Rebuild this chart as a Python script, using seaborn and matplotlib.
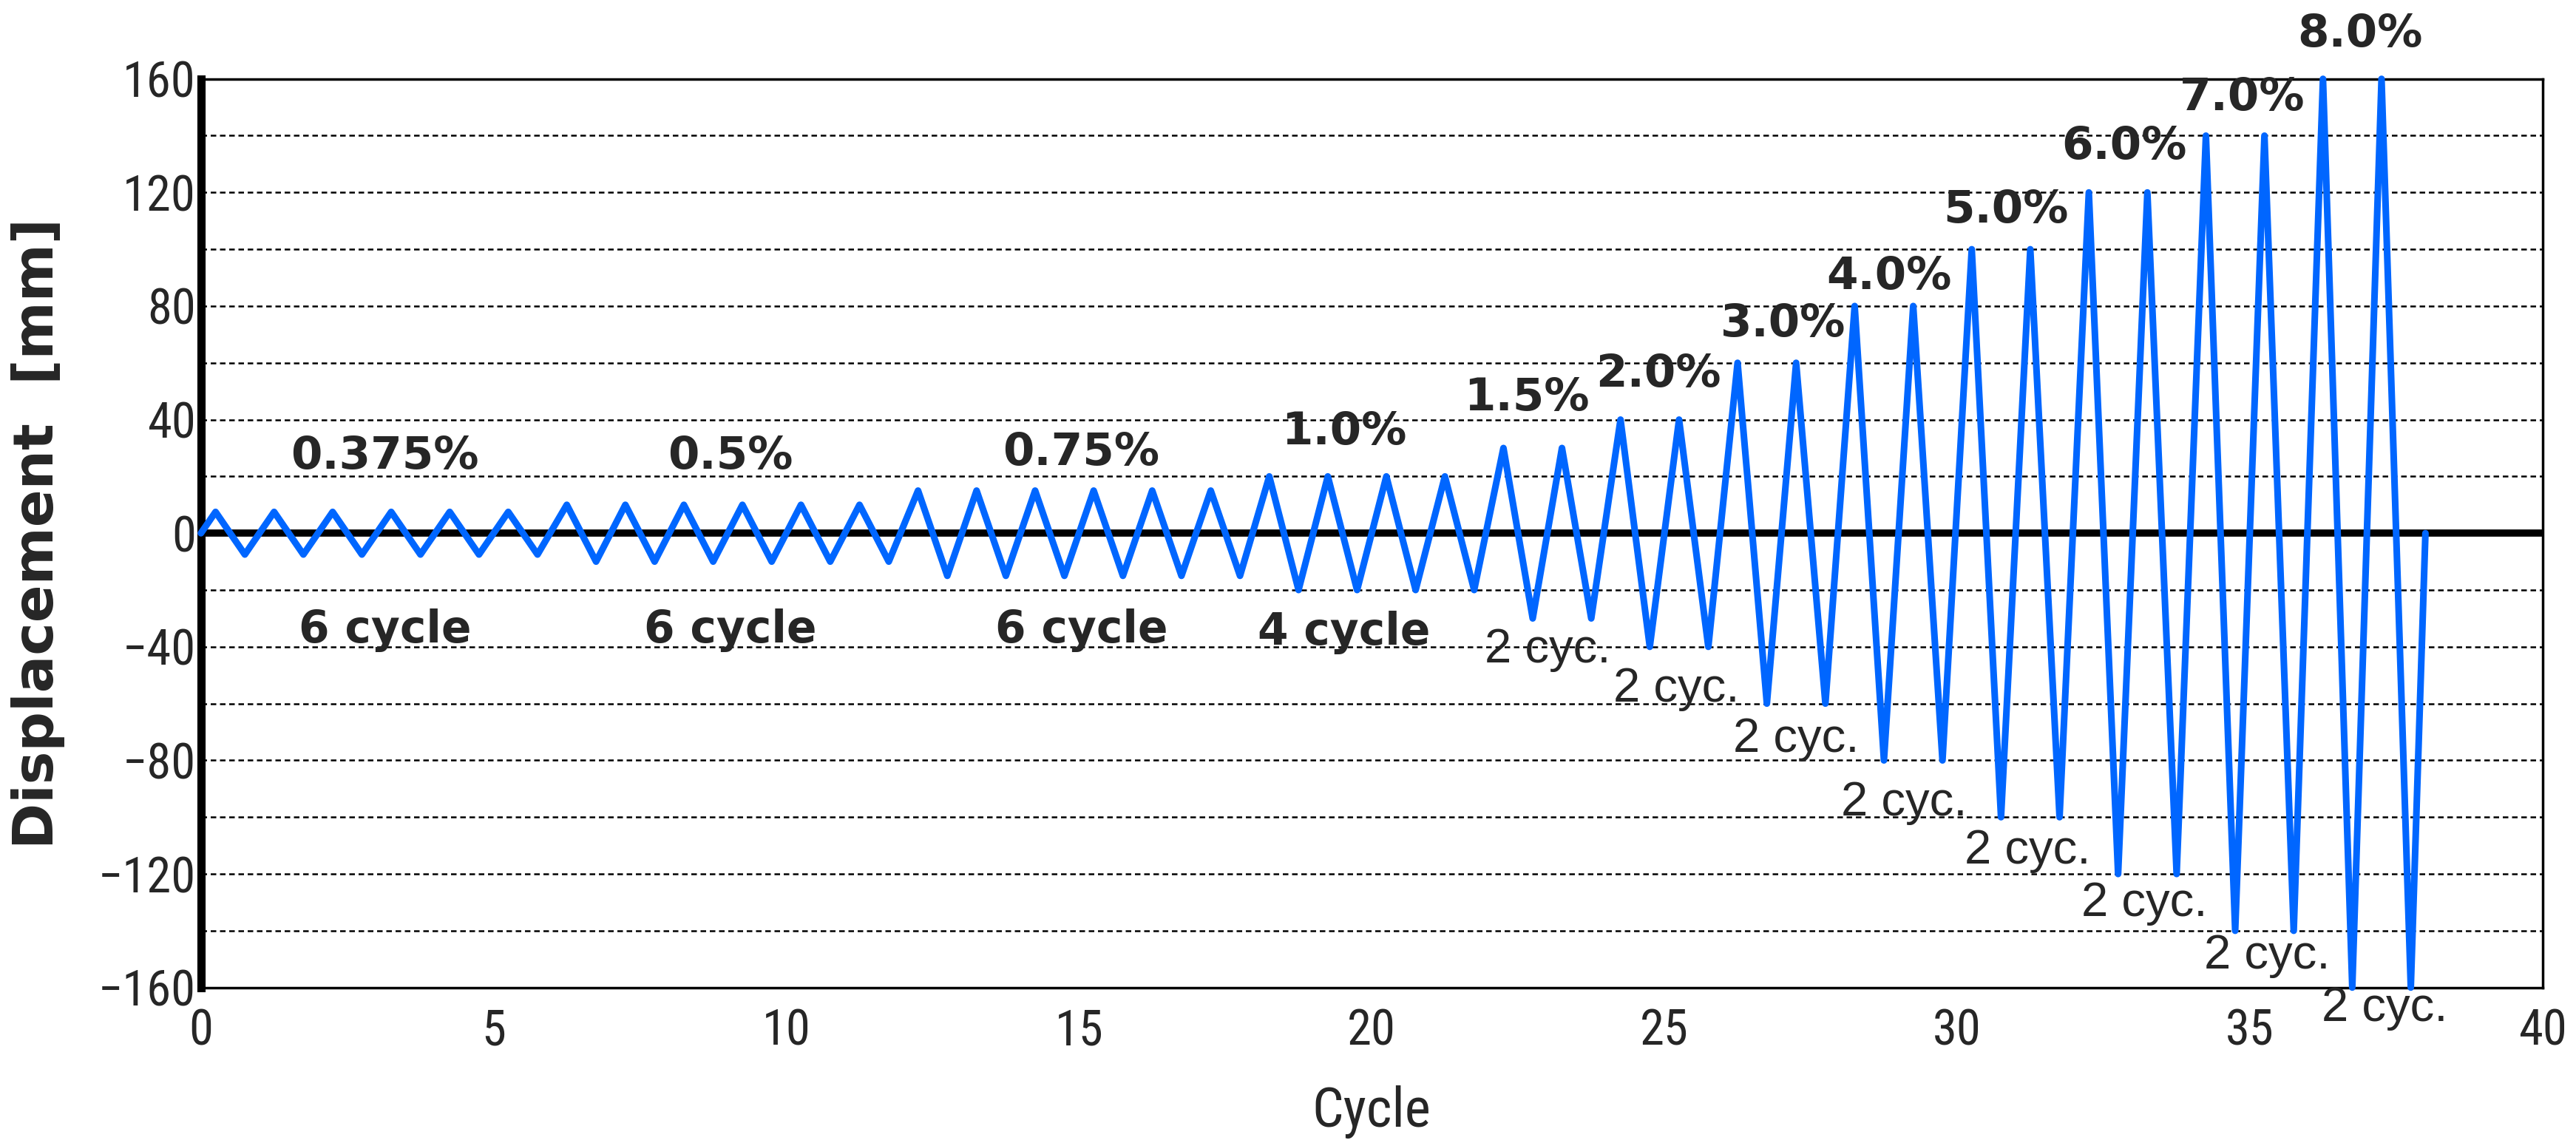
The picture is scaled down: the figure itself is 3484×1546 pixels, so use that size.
import numpy as np
import pandas as pd
import matplotlib
matplotlib.use("Agg")
import matplotlib.pyplot as plt
from matplotlib import font_manager
import seaborn as sns

# loading protocol: drift level, amplitude (mm) and number of cycles
drift_labels = ["0.375%", "0.5%", "0.75%", "1.0%", "1.5%", "2.0%", "3.0%",
                "4.0%", "5.0%", "6.0%", "7.0%", "8.0%"]
amplitudes = [7.5, 10, 15, 20, 30, 40, 60, 80, 100, 120, 140, 160]
n_cycles = [6, 6, 6, 4, 2, 2, 2, 2, 2, 2, 2, 2]
cycle_labels = ["6 cycle", "6 cycle", "6 cycle", "4 cycle"] + ["2 cyc."] * 8

# build the zigzag history: +A at quarter cycle, -A at three quarters
amp_per_cycle = np.repeat(amplitudes, n_cycles)
xs = [0.0]
ys = [0.0]
for i, a in enumerate(amp_per_cycle):
    xs += [i + 0.25, i + 0.75]
    ys += [a, -a]
xs.append(float(len(amp_per_cycle)))
ys.append(0.0)
df = pd.DataFrame({"Cycle": xs, "Displacement": ys})

sns.set_style("white")
plt.rcParams['font.family'] = ['Liberation Sans', 'DejaVu Sans']

# narrow face for ticks if one is installed
names = {f.name for f in font_manager.fontManager.ttflist}
narrow = [n for n in ["Liberation Sans Narrow", "DejaVu Sans Condensed", "Roboto Condensed"] if n in names]
tick_family = narrow + ['Liberation Sans', 'DejaVu Sans']

fig = plt.figure(figsize=(34.84, 15.46), dpi=100)
ax = fig.add_axes([0.078, 0.136, 0.909, 0.795])

# dashed grid every 20
for g in range(-140, 161, 20):
    if g != 0:
        ax.axhline(g, color="black", lw=1.8, ls=(0, (3, 2)), zorder=1)
ax.axhline(0, color="black", lw=7, zorder=2)

sns.lineplot(data=df, x="Cycle", y="Displacement", color="#0066ff", lw=6.5,
             ax=ax, zorder=3, clip_on=False, sort=False)

ax.set_xlim(0, 40)
ax.set_ylim(-160, 160)
ax.set_xticks(range(0, 41, 5))
ax.set_yticks(range(-160, 161, 40))
ax.tick_params(axis="y", direction="in", length=10, width=5, labelsize=48, pad=5)
ax.tick_params(axis="x", length=0, labelsize=48, pad=20)
for lab in ax.get_xticklabels() + ax.get_yticklabels():
    lab.set_family(tick_family)
    lab.set_stretch("condensed")
for s in ["top", "right", "bottom"]:
    ax.spines[s].set_linewidth(2.5)
    ax.spines[s].set_color("black")
ax.spines["left"].set_linewidth(8)
ax.spines["left"].set_color("black")

ax.set_xlabel("Cycle", fontsize=54, family=tick_family)
ax.set_ylabel("Displacement  [mm]", fontsize=54, fontweight="bold", family=["DejaVu Sans"])
ax.xaxis.set_label_coords(0.5, -0.108)
ax.yaxis.set_label_coords(-0.058, 0.5)

# annotation positions (layout only)
top_pos = [(3.14, 27), (9.04, 27), (15.04, 28.4), (19.53, 35.5), (22.65, 47.5), (24.9, 56),
           (27.03, 73.7), (28.84, 90.2), (30.84, 113.7), (32.86, 136.2), (34.87, 153.4),
           (36.88, 175.7)]
bot_pos = [(3.14, -34.2), (9.04, -34.2), (15.04, -34.2), (19.53, -35), (23.0, -41),
           (25.2, -55), (27.25, -72.5), (29.1, -95), (31.2, -112), (33.2, -130.3),
           (35.3, -149), (37.3, -167.3)]

for lab, (x, y) in zip(drift_labels, top_pos):
    ax.text(x, y, lab, ha="center", va="center", fontsize=44, fontweight="bold",
            family=["DejaVu Sans"], zorder=5, clip_on=False)
for lab, (x, y) in zip(cycle_labels, bot_pos):
    if lab.endswith("cycle"):
        ax.text(x, y, lab, ha="center", va="center", fontsize=43, fontweight="bold",
                family=["DejaVu Sans"], zorder=5, clip_on=False)
    else:
        ax.text(x, y, lab, ha="center", va="center", fontsize=47,
                family=["Liberation Sans", "DejaVu Sans"], zorder=5, clip_on=False)

fig.savefig("out.png", dpi=100, facecolor="white")
